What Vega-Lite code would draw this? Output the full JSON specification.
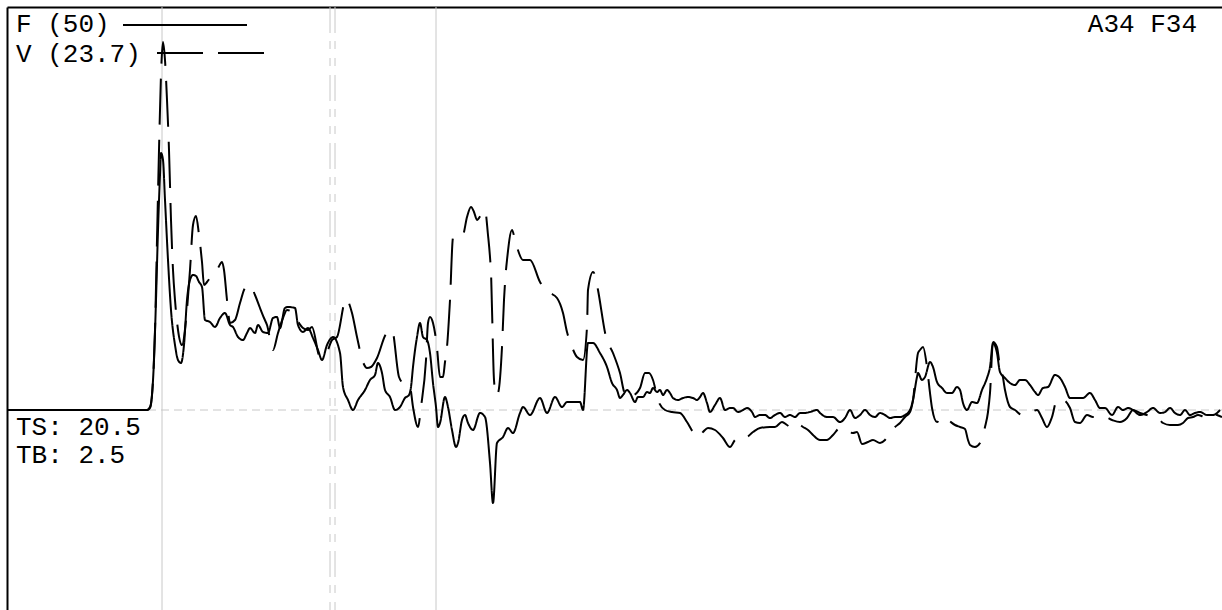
{
  "$schema": "https://vega.github.io/schema/vega-lite/v6.json",
  "width": 1215,
  "height": 603,
  "autosize": {"type": "none"},
  "padding": {"left": 7, "top": 7, "right": 0, "bottom": 0},
  "background": "#ffffff",
  "config": {"view": {"stroke": null}},
  "datasets": {
    "sig": [
      {"s":"F","t":0,"v":0},{"s":"F","t":140,"v":0},{"s":"F","t":143,"v":2},{"s":"F","t":145,"v":15},{"s":"F","t":147,"v":50},{"s":"F","t":149,"v":110},{"s":"F","t":151,"v":180},{"s":"F","t":153,"v":235},{"s":"F","t":154,"v":257},{"s":"F","t":156,"v":250},{"s":"F","t":158,"v":210},{"s":"F","t":161,"v":150},{"s":"F","t":164,"v":100},{"s":"F","t":168,"v":65},{"s":"F","t":171,"v":50},{"s":"F","t":174,"v":47},{"s":"F","t":177,"v":65},{"s":"F","t":180,"v":110},{"s":"F","t":183,"v":130},{"s":"F","t":186,"v":135},{"s":"F","t":189,"v":134},{"s":"F","t":192,"v":128},{"s":"F","t":195,"v":123},{"s":"F","t":198,"v":90},{"s":"F","t":203,"v":88},{"s":"F","t":208,"v":83},{"s":"F","t":213,"v":92},{"s":"F","t":218,"v":97},{"s":"F","t":223,"v":85},{"s":"F","t":226,"v":83},{"s":"F","t":231,"v":73},{"s":"F","t":236,"v":70},{"s":"F","t":240,"v":77},{"s":"F","t":243,"v":82},{"s":"F","t":248,"v":77},{"s":"F","t":251,"v":85},{"s":"F","t":256,"v":78},{"s":"F","t":261,"v":77},{"s":"F","t":266,"v":92},{"s":"F","t":270,"v":93},{"s":"F","t":273,"v":82},{"s":"F","t":278,"v":102},{"s":"F","t":281,"v":103},{"s":"F","t":288,"v":102},{"s":"F","t":291,"v":85},{"s":"F","t":296,"v":78},{"s":"F","t":301,"v":82},{"s":"F","t":306,"v":72},{"s":"F","t":311,"v":60},{"s":"F","t":315,"v":50},{"s":"F","t":320,"v":65},{"s":"F","t":326,"v":73},{"s":"F","t":333,"v":57},{"s":"F","t":336,"v":23},{"s":"F","t":341,"v":10},{"s":"F","t":346,"v":0},{"s":"F","t":351,"v":10},{"s":"F","t":358,"v":20},{"s":"F","t":363,"v":30},{"s":"F","t":368,"v":35},{"s":"F","t":371,"v":47},{"s":"F","t":375,"v":37},{"s":"F","t":378,"v":20},{"s":"F","t":383,"v":13},{"s":"F","t":388,"v":0},{"s":"F","t":393,"v":3},{"s":"F","t":398,"v":12},{"s":"F","t":402,"v":15},{"s":"F","t":404,"v":23},{"s":"F","t":406,"v":43},{"s":"F","t":410,"v":73},{"s":"F","t":413,"v":87},{"s":"F","t":416,"v":73},{"s":"F","t":420,"v":70},{"s":"F","t":423,"v":57},{"s":"F","t":426,"v":27},{"s":"F","t":429,"v":3},{"s":"F","t":431,"v":-17},{"s":"F","t":433,"v":-13},{"s":"F","t":438,"v":13},{"s":"F","t":441,"v":3},{"s":"F","t":445,"v":-20},{"s":"F","t":449,"v":-37},{"s":"F","t":451,"v":-33},{"s":"F","t":455,"v":-10},{"s":"F","t":458,"v":-5},{"s":"F","t":461,"v":-13},{"s":"F","t":466,"v":-20},{"s":"F","t":473,"v":-3},{"s":"F","t":478,"v":-7},{"s":"F","t":483,"v":-53},{"s":"F","t":486,"v":-93},{"s":"F","t":490,"v":-33},{"s":"F","t":496,"v":-27},{"s":"F","t":501,"v":-18},{"s":"F","t":506,"v":-23},{"s":"F","t":513,"v":-3},{"s":"F","t":516,"v":3},{"s":"F","t":523,"v":-5},{"s":"F","t":533,"v":12},{"s":"F","t":540,"v":-3},{"s":"F","t":548,"v":13},{"s":"F","t":555,"v":3},{"s":"F","t":560,"v":8},{"s":"F","t":573,"v":8},{"s":"F","t":576,"v":0},{"s":"F","t":581,"v":67},{"s":"F","t":586,"v":67},{"s":"F","t":593,"v":57},{"s":"F","t":600,"v":43},{"s":"F","t":605,"v":27},{"s":"F","t":610,"v":20},{"s":"F","t":613,"v":12},{"s":"F","t":616,"v":15},{"s":"F","t":620,"v":20},{"s":"F","t":623,"v":17},{"s":"F","t":628,"v":8},{"s":"F","t":631,"v":13},{"s":"F","t":636,"v":13},{"s":"F","t":640,"v":18},{"s":"F","t":643,"v":17},{"s":"F","t":646,"v":22},{"s":"F","t":650,"v":18},{"s":"F","t":653,"v":20},{"s":"F","t":656,"v":15},{"s":"F","t":660,"v":20},{"s":"F","t":663,"v":17},{"s":"F","t":666,"v":12},{"s":"F","t":671,"v":10},{"s":"F","t":676,"v":12},{"s":"F","t":681,"v":13},{"s":"F","t":686,"v":12},{"s":"F","t":690,"v":10},{"s":"F","t":693,"v":13},{"s":"F","t":696,"v":17},{"s":"F","t":700,"v":7},{"s":"F","t":703,"v":-2},{"s":"F","t":708,"v":5},{"s":"F","t":713,"v":12},{"s":"F","t":718,"v":0},{"s":"F","t":723,"v":2},{"s":"F","t":726,"v":2},{"s":"F","t":731,"v":-2},{"s":"F","t":736,"v":0},{"s":"F","t":740,"v":2},{"s":"F","t":745,"v":-2},{"s":"F","t":748,"v":-7},{"s":"F","t":753,"v":-5},{"s":"F","t":758,"v":-5},{"s":"F","t":763,"v":-8},{"s":"F","t":768,"v":-5},{"s":"F","t":773,"v":-3},{"s":"F","t":778,"v":-7},{"s":"F","t":783,"v":-5},{"s":"F","t":788,"v":-7},{"s":"F","t":793,"v":-3},{"s":"F","t":798,"v":-3},{"s":"F","t":803,"v":-2},{"s":"F","t":810,"v":0},{"s":"F","t":813,"v":-3},{"s":"F","t":820,"v":-7},{"s":"F","t":826,"v":-7},{"s":"F","t":833,"v":-12},{"s":"F","t":838,"v":-8},{"s":"F","t":843,"v":0},{"s":"F","t":848,"v":-8},{"s":"F","t":853,"v":-5},{"s":"F","t":858,"v":0},{"s":"F","t":863,"v":-5},{"s":"F","t":868,"v":-7},{"s":"F","t":873,"v":-3},{"s":"F","t":878,"v":-5},{"s":"F","t":883,"v":-8},{"s":"F","t":888,"v":-7},{"s":"F","t":893,"v":-7},{"s":"F","t":898,"v":-5},{"s":"F","t":903,"v":0},{"s":"F","t":906,"v":10},{"s":"F","t":910,"v":33},{"s":"F","t":911,"v":37},{"s":"F","t":915,"v":30},{"s":"F","t":918,"v":33},{"s":"F","t":923,"v":48},{"s":"F","t":926,"v":43},{"s":"F","t":930,"v":28},{"s":"F","t":935,"v":22},{"s":"F","t":940,"v":17},{"s":"F","t":945,"v":17},{"s":"F","t":950,"v":23},{"s":"F","t":953,"v":20},{"s":"F","t":956,"v":7},{"s":"F","t":960,"v":0},{"s":"F","t":965,"v":8},{"s":"F","t":970,"v":7},{"s":"F","t":975,"v":20},{"s":"F","t":980,"v":32},{"s":"F","t":983,"v":43},{"s":"F","t":986,"v":67},{"s":"F","t":990,"v":57},{"s":"F","t":993,"v":38},{"s":"F","t":998,"v":32},{"s":"F","t":1003,"v":27},{"s":"F","t":1008,"v":25},{"s":"F","t":1013,"v":30},{"s":"F","t":1018,"v":30},{"s":"F","t":1023,"v":25},{"s":"F","t":1028,"v":18},{"s":"F","t":1031,"v":15},{"s":"F","t":1036,"v":22},{"s":"F","t":1041,"v":23},{"s":"F","t":1048,"v":35},{"s":"F","t":1053,"v":32},{"s":"F","t":1058,"v":23},{"s":"F","t":1063,"v":12},{"s":"F","t":1070,"v":12},{"s":"F","t":1076,"v":12},{"s":"F","t":1083,"v":17},{"s":"F","t":1088,"v":10},{"s":"F","t":1093,"v":2},{"s":"F","t":1098,"v":2},{"s":"F","t":1105,"v":-5},{"s":"F","t":1111,"v":3},{"s":"F","t":1116,"v":0},{"s":"F","t":1121,"v":2},{"s":"F","t":1126,"v":0},{"s":"F","t":1133,"v":-5},{"s":"F","t":1140,"v":-2},{"s":"F","t":1146,"v":2},{"s":"F","t":1153,"v":-3},{"s":"F","t":1158,"v":-2},{"s":"F","t":1163,"v":2},{"s":"F","t":1168,"v":-3},{"s":"F","t":1173,"v":-5},{"s":"F","t":1178,"v":0},{"s":"F","t":1183,"v":-5},{"s":"F","t":1188,"v":-3},{"s":"F","t":1193,"v":-2},{"s":"F","t":1200,"v":-5},{"s":"F","t":1206,"v":-5},{"s":"F","t":1213,"v":0},
      {"s":"V","t":0,"v":0},{"s":"V","t":140,"v":0},{"s":"V","t":143,"v":3},{"s":"V","t":145,"v":15},{"s":"V","t":148,"v":80},{"s":"V","t":150,"v":170},{"s":"V","t":152,"v":260},{"s":"V","t":154,"v":335},{"s":"V","t":156,"v":368},{"s":"V","t":158,"v":350},{"s":"V","t":160,"v":310},{"s":"V","t":162,"v":260},{"s":"V","t":164,"v":190},{"s":"V","t":166,"v":140},{"s":"V","t":168,"v":110},{"s":"V","t":171,"v":80},{"s":"V","t":175,"v":65},{"s":"V","t":179,"v":90},{"s":"V","t":183,"v":140},{"s":"V","t":186,"v":185},{"s":"V","t":189,"v":194},{"s":"V","t":192,"v":175},{"s":"V","t":195,"v":148},{"s":"V","t":197,"v":125},{"s":"V","t":200,"v":128},{"s":"V","t":205,"v":135},{"s":"V","t":211,"v":142},{"s":"V","t":215,"v":148},{"s":"V","t":217,"v":140},{"s":"V","t":220,"v":110},{"s":"V","t":223,"v":87},{"s":"V","t":228,"v":90},{"s":"V","t":233,"v":107},{"s":"V","t":238,"v":122},{"s":"V","t":243,"v":125},{"s":"V","t":248,"v":115},{"s":"V","t":253,"v":102},{"s":"V","t":257,"v":92},{"s":"V","t":260,"v":85},{"s":"V","t":266,"v":60},{"s":"V","t":271,"v":77},{"s":"V","t":276,"v":92},{"s":"V","t":280,"v":100},{"s":"V","t":285,"v":98},{"s":"V","t":290,"v":90},{"s":"V","t":296,"v":82},{"s":"V","t":301,"v":80},{"s":"V","t":305,"v":83},{"s":"V","t":313,"v":53},{"s":"V","t":320,"v":58},{"s":"V","t":325,"v":70},{"s":"V","t":330,"v":73},{"s":"V","t":339,"v":111},{"s":"V","t":345,"v":97},{"s":"V","t":350,"v":73},{"s":"V","t":356,"v":48},{"s":"V","t":360,"v":42},{"s":"V","t":364,"v":43},{"s":"V","t":370,"v":52},{"s":"V","t":379,"v":76},{"s":"V","t":385,"v":80},{"s":"V","t":392,"v":33},{"s":"V","t":398,"v":25},{"s":"V","t":403,"v":23},{"s":"V","t":406,"v":3},{"s":"V","t":411,"v":-17},{"s":"V","t":414,"v":3},{"s":"V","t":419,"v":50},{"s":"V","t":421,"v":87},{"s":"V","t":423,"v":93},{"s":"V","t":426,"v":87},{"s":"V","t":428,"v":77},{"s":"V","t":430,"v":62},{"s":"V","t":433,"v":33},{"s":"V","t":436,"v":33},{"s":"V","t":438,"v":48},{"s":"V","t":440,"v":63},{"s":"V","t":443,"v":110},{"s":"V","t":446,"v":172},{"s":"V","t":450,"v":174},{"s":"V","t":453,"v":173},{"s":"V","t":456,"v":175},{"s":"V","t":460,"v":193},{"s":"V","t":464,"v":203},{"s":"V","t":467,"v":198},{"s":"V","t":470,"v":190},{"s":"V","t":474,"v":195},{"s":"V","t":478,"v":200},{"s":"V","t":481,"v":175},{"s":"V","t":483,"v":153},{"s":"V","t":484,"v":137},{"s":"V","t":487,"v":30},{"s":"V","t":489,"v":15},{"s":"V","t":491,"v":17},{"s":"V","t":495,"v":63},{"s":"V","t":497,"v":110},{"s":"V","t":499,"v":140},{"s":"V","t":500,"v":150},{"s":"V","t":505,"v":180},{"s":"V","t":508,"v":170},{"s":"V","t":510,"v":163},{"s":"V","t":516,"v":150},{"s":"V","t":523,"v":150},{"s":"V","t":533,"v":128},{"s":"V","t":538,"v":120},{"s":"V","t":543,"v":117},{"s":"V","t":550,"v":112},{"s":"V","t":556,"v":97},{"s":"V","t":560,"v":78},{"s":"V","t":565,"v":63},{"s":"V","t":570,"v":53},{"s":"V","t":576,"v":50},{"s":"V","t":580,"v":83},{"s":"V","t":581,"v":120},{"s":"V","t":586,"v":138},{"s":"V","t":588,"v":135},{"s":"V","t":591,"v":120},{"s":"V","t":599,"v":73},{"s":"V","t":606,"v":57},{"s":"V","t":613,"v":37},{"s":"V","t":618,"v":17},{"s":"V","t":621,"v":20},{"s":"V","t":626,"v":15},{"s":"V","t":633,"v":22},{"s":"V","t":638,"v":37},{"s":"V","t":642,"v":37},{"s":"V","t":646,"v":30},{"s":"V","t":651,"v":10},{"s":"V","t":658,"v":0},{"s":"V","t":665,"v":-2},{"s":"V","t":673,"v":-3},{"s":"V","t":680,"v":-12},{"s":"V","t":686,"v":-22},{"s":"V","t":691,"v":-27},{"s":"V","t":696,"v":-22},{"s":"V","t":701,"v":-18},{"s":"V","t":708,"v":-20},{"s":"V","t":716,"v":-28},{"s":"V","t":723,"v":-37},{"s":"V","t":728,"v":-30},{"s":"V","t":733,"v":-27},{"s":"V","t":738,"v":-28},{"s":"V","t":746,"v":-22},{"s":"V","t":753,"v":-18},{"s":"V","t":763,"v":-17},{"s":"V","t":768,"v":-17},{"s":"V","t":775,"v":-12},{"s":"V","t":780,"v":-15},{"s":"V","t":785,"v":-18},{"s":"V","t":791,"v":-14},{"s":"V","t":796,"v":-17},{"s":"V","t":801,"v":-20},{"s":"V","t":806,"v":-25},{"s":"V","t":813,"v":-30},{"s":"V","t":820,"v":-30},{"s":"V","t":826,"v":-25},{"s":"V","t":833,"v":-18},{"s":"V","t":840,"v":-22},{"s":"V","t":846,"v":-23},{"s":"V","t":850,"v":-22},{"s":"V","t":855,"v":-34},{"s":"V","t":861,"v":-32},{"s":"V","t":866,"v":-30},{"s":"V","t":873,"v":-33},{"s":"V","t":878,"v":-30},{"s":"V","t":883,"v":-23},{"s":"V","t":888,"v":-17},{"s":"V","t":893,"v":-13},{"s":"V","t":898,"v":-7},{"s":"V","t":903,"v":-2},{"s":"V","t":906,"v":10},{"s":"V","t":911,"v":57},{"s":"V","t":913,"v":60},{"s":"V","t":916,"v":63},{"s":"V","t":920,"v":43},{"s":"V","t":923,"v":17},{"s":"V","t":925,"v":2},{"s":"V","t":930,"v":-12},{"s":"V","t":935,"v":-7},{"s":"V","t":941,"v":-10},{"s":"V","t":948,"v":-15},{"s":"V","t":953,"v":-17},{"s":"V","t":958,"v":-19},{"s":"V","t":961,"v":-30},{"s":"V","t":963,"v":-35},{"s":"V","t":968,"v":-37},{"s":"V","t":973,"v":-33},{"s":"V","t":978,"v":-17},{"s":"V","t":981,"v":-2},{"s":"V","t":983,"v":17},{"s":"V","t":986,"v":68},{"s":"V","t":990,"v":63},{"s":"V","t":993,"v":43},{"s":"V","t":995,"v":38},{"s":"V","t":998,"v":20},{"s":"V","t":1003,"v":3},{"s":"V","t":1008,"v":0},{"s":"V","t":1015,"v":-5},{"s":"V","t":1023,"v":-3},{"s":"V","t":1030,"v":0},{"s":"V","t":1035,"v":-8},{"s":"V","t":1040,"v":-17},{"s":"V","t":1045,"v":-7},{"s":"V","t":1050,"v":10},{"s":"V","t":1056,"v":10},{"s":"V","t":1063,"v":2},{"s":"V","t":1068,"v":-12},{"s":"V","t":1073,"v":-13},{"s":"V","t":1080,"v":-5},{"s":"V","t":1086,"v":-7},{"s":"V","t":1093,"v":-7},{"s":"V","t":1098,"v":-7},{"s":"V","t":1105,"v":-10},{"s":"V","t":1113,"v":-12},{"s":"V","t":1120,"v":-8},{"s":"V","t":1126,"v":0},{"s":"V","t":1133,"v":-3},{"s":"V","t":1140,"v":-5},{"s":"V","t":1146,"v":-7},{"s":"V","t":1151,"v":-8},{"s":"V","t":1156,"v":-13},{"s":"V","t":1163,"v":-15},{"s":"V","t":1171,"v":-15},{"s":"V","t":1176,"v":-13},{"s":"V","t":1181,"v":-8},{"s":"V","t":1186,"v":-7},{"s":"V","t":1191,"v":-5},{"s":"V","t":1198,"v":-7},{"s":"V","t":1205,"v":-3},{"s":"V","t":1210,"v":-5},{"s":"V","t":1215,"v":-7}
    ],
    "key": [
      {"s":"F","t":116,"v":385},{"s":"F","t":240,"v":385},
      {"s":"V","t":150,"v":357},{"s":"V","t":258,"v":357}
    ],
    "marks": [
      {"t":155,"k":"solid"},{"t":429,"k":"solid"},{"t":323,"k":"dash"},{"t":328,"k":"dash"}
    ],
    "labelsLeft": [
      {"label":"F (50)","t":9,"v":378},
      {"label":"V (23.7)","t":9,"v":348},
      {"label":"TS: 20.5","t":9,"v":-25},
      {"label":"TB: 2.5","t":9,"v":-53}
    ],
    "labelsRight": [
      {"label":"A34 F34","t":1190,"v":378}
    ]
  },
  "layer": [
    {
      "data": {"name": "marks"},
      "transform": [{"filter": "datum.k == 'solid'"}],
      "mark": {"type": "rule", "color": "#c8c8c8", "strokeWidth": 1},
      "encoding": {
        "x": {"field": "t", "type": "quantitative", "scale": {"domain": [0, 1215], "nice": false, "zero": false}, "axis": {"orient": "top", "ticks": false, "labels": false, "grid": false, "title": null, "domainColor": "#000000", "domainWidth": 2}}
      }
    },
    {
      "data": {"name": "marks"},
      "transform": [{"filter": "datum.k == 'dash'"}],
      "mark": {"type": "rule", "color": "#c8c8c8", "strokeWidth": 1, "strokeDash": [26, 8, 8, 9, 8, 9]},
      "encoding": {
        "x": {"field": "t", "type": "quantitative", "scale": {"domain": [0, 1215], "nice": false, "zero": false}, "axis": {"orient": "top", "ticks": false, "labels": false, "grid": false, "title": null, "domainColor": "#000000", "domainWidth": 2}}
      }
    },
    {
      "data": {"values": [{"v": 0}]},
      "mark": {"type": "rule", "color": "#c8c8c8", "strokeWidth": 1, "strokeDash": [8, 5]},
      "encoding": {
        "y": {"field": "v", "type": "quantitative", "scale": {"domain": [-200, 403], "nice": false, "zero": false}, "axis": {"orient": "left", "ticks": false, "labels": false, "grid": false, "title": null, "domainColor": "#000000", "domainWidth": 2}}
      }
    },
    {
      "data": {"name": "sig"},
      "mark": {"type": "line", "color": "#000000", "strokeWidth": 2, "clip": true, "interpolate": "monotone"},
      "encoding": {
        "x": {"field": "t", "type": "quantitative", "scale": {"domain": [0, 1215], "nice": false, "zero": false}, "axis": {"orient": "top", "ticks": false, "labels": false, "grid": false, "title": null, "domainColor": "#000000", "domainWidth": 2}},
        "y": {"field": "v", "type": "quantitative", "scale": {"domain": [-200, 403], "nice": false, "zero": false}, "axis": {"orient": "left", "ticks": false, "labels": false, "grid": false, "title": null, "domainColor": "#000000", "domainWidth": 2}},
        "strokeDash": {"field": "s", "type": "nominal", "scale": {"domain": ["F", "V"], "range": [[1, 0], [46, 15]]}, "legend": null},
        "order": {"field": "t", "type": "quantitative"}
      }
    },
    {
      "data": {"name": "key"},
      "mark": {"type": "line", "color": "#000000", "strokeWidth": 2},
      "encoding": {
        "x": {"field": "t", "type": "quantitative", "scale": {"domain": [0, 1215], "nice": false, "zero": false}, "axis": {"orient": "top", "ticks": false, "labels": false, "grid": false, "title": null, "domainColor": "#000000", "domainWidth": 2}},
        "y": {"field": "v", "type": "quantitative", "scale": {"domain": [-200, 403], "nice": false, "zero": false}, "axis": {"orient": "left", "ticks": false, "labels": false, "grid": false, "title": null, "domainColor": "#000000", "domainWidth": 2}},
        "strokeDash": {"field": "s", "type": "nominal", "scale": {"domain": ["F", "V"], "range": [[1, 0], [46, 15]]}, "legend": null}
      }
    },
    {
      "data": {"name": "labelsLeft"},
      "mark": {"type": "text", "align": "left", "baseline": "alphabetic", "font": "Liberation Mono", "fontSize": 26, "color": "#000000"},
      "encoding": {
        "x": {"field": "t", "type": "quantitative"},
        "y": {"field": "v", "type": "quantitative"},
        "text": {"field": "label", "type": "nominal"}
      }
    },
    {
      "data": {"name": "labelsRight"},
      "mark": {"type": "text", "align": "right", "baseline": "alphabetic", "font": "Liberation Mono", "fontSize": 26, "color": "#000000"},
      "encoding": {
        "x": {"field": "t", "type": "quantitative"},
        "y": {"field": "v", "type": "quantitative"},
        "text": {"field": "label", "type": "nominal"}
      }
    }
  ]
}
